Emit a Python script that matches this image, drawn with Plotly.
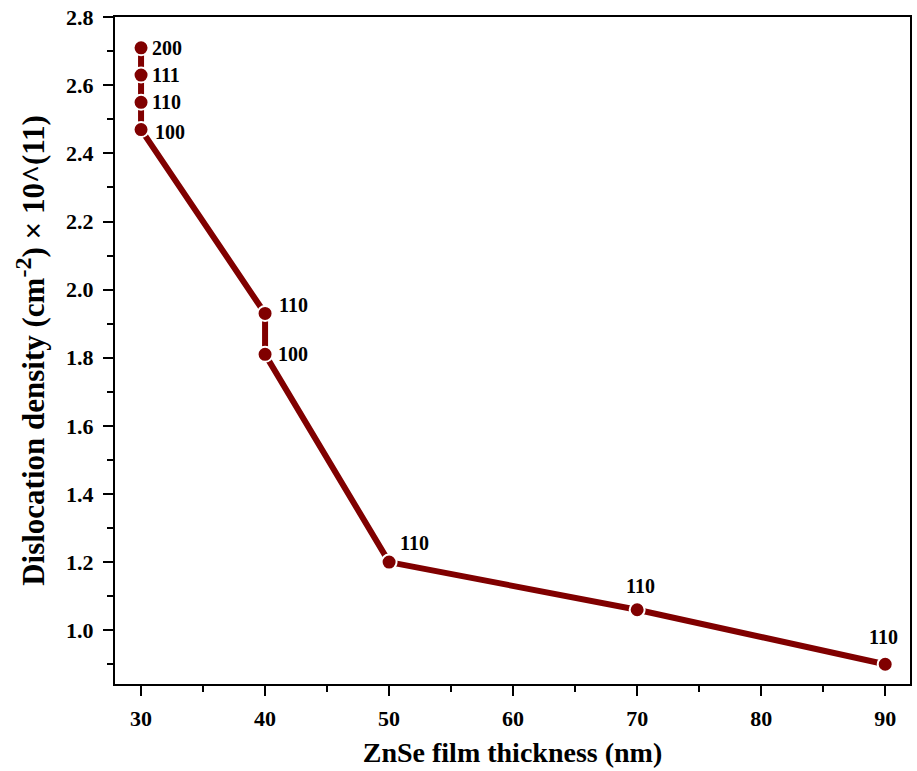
import plotly.graph_objects as go

thickness = [30, 30, 30, 30, 40, 40, 50, 70, 90]
density = [2.71, 2.63, 2.55, 2.47, 1.93, 1.81, 1.20, 1.06, 0.90]
planes = ["200", "111", "110", "100", "110", "100", "110", "110", "110"]

color = "#800000"
font_family = "Liberation Serif, Times New Roman, serif"

fig = go.Figure()
fig.add_trace(go.Scatter(
    x=thickness, y=density, mode="lines+markers",
    line=dict(color=color, width=6),
    marker=dict(color=color, size=15, line=dict(color="white", width=2)),
    showlegend=False,
))

# label offsets (pixels) per point
offsets = [(26, 0), (25, 0), (25, 0), (29, -2), (28, 8), (28, 0), (25, 19), (3, 24), (-2, 27)]
for xv, yv, t, (dx, dy) in zip(thickness, density, planes, offsets):
    fig.add_annotation(x=xv, y=yv, text="<b>%s</b>" % t, showarrow=False,
                       xshift=dx, yshift=dy,
                       font=dict(family=font_family, size=20, color="black"))

axis_common = dict(
    showline=True, linecolor="black", linewidth=2, mirror=True,
    ticks="outside", ticklen=10, tickwidth=2, tickcolor="black",
    showgrid=False, zeroline=False, ticklabeloverflow="allow",
    tickfont=dict(family=font_family, size=22, color="black"),
)

xt = [30, 40, 50, 60, 70, 80, 90]
fig.update_xaxes(range=[27.9, 92], tickvals=xt,
                 ticktext=["<b>%d</b>" % v for v in xt],
                 minor=dict(ticks="outside", ticklen=6, tickwidth=2, tickcolor="black",
                            tickvals=[35, 45, 55, 65, 75, 85]),
                 ticklabelstandoff=4,
                 title=dict(text="<b>ZnSe film thickness (nm)</b>",
                            font=dict(family=font_family, size=28, color="black"), standoff=12),
                 **axis_common)
yt = [1.0, 1.2, 1.4, 1.6, 1.8, 2.0, 2.2, 2.4, 2.6, 2.8]
fig.update_yaxes(range=[0.842, 2.8005], tickvals=yt,
                 ticktext=["<b>%.1f</b>" % v for v in yt],
                 minor=dict(ticks="outside", ticklen=6, tickwidth=2, tickcolor="black",
                            tickvals=[0.9, 1.1, 1.3, 1.5, 1.7, 1.9, 2.1, 2.3, 2.5, 2.7]),
                 ticklabelstandoff=5,
                 title=dict(text="<b>Dislocation density (cm<sup><span style='font-size:24px'>-2</span></sup>) × 10^(11)</b>",
                            font=dict(family=font_family, size=31, color="black"), standoff=12),
                 **axis_common)

fig.update_layout(width=917, height=771, margin=dict(l=115, r=5, t=16, b=87),
                  plot_bgcolor="white", paper_bgcolor="white")

# remove the default 8px page margin so the figure fills the window exactly
fig.write_html("out.html", config={"displayModeBar": False},
               post_script="document.body.style.margin='0';")
